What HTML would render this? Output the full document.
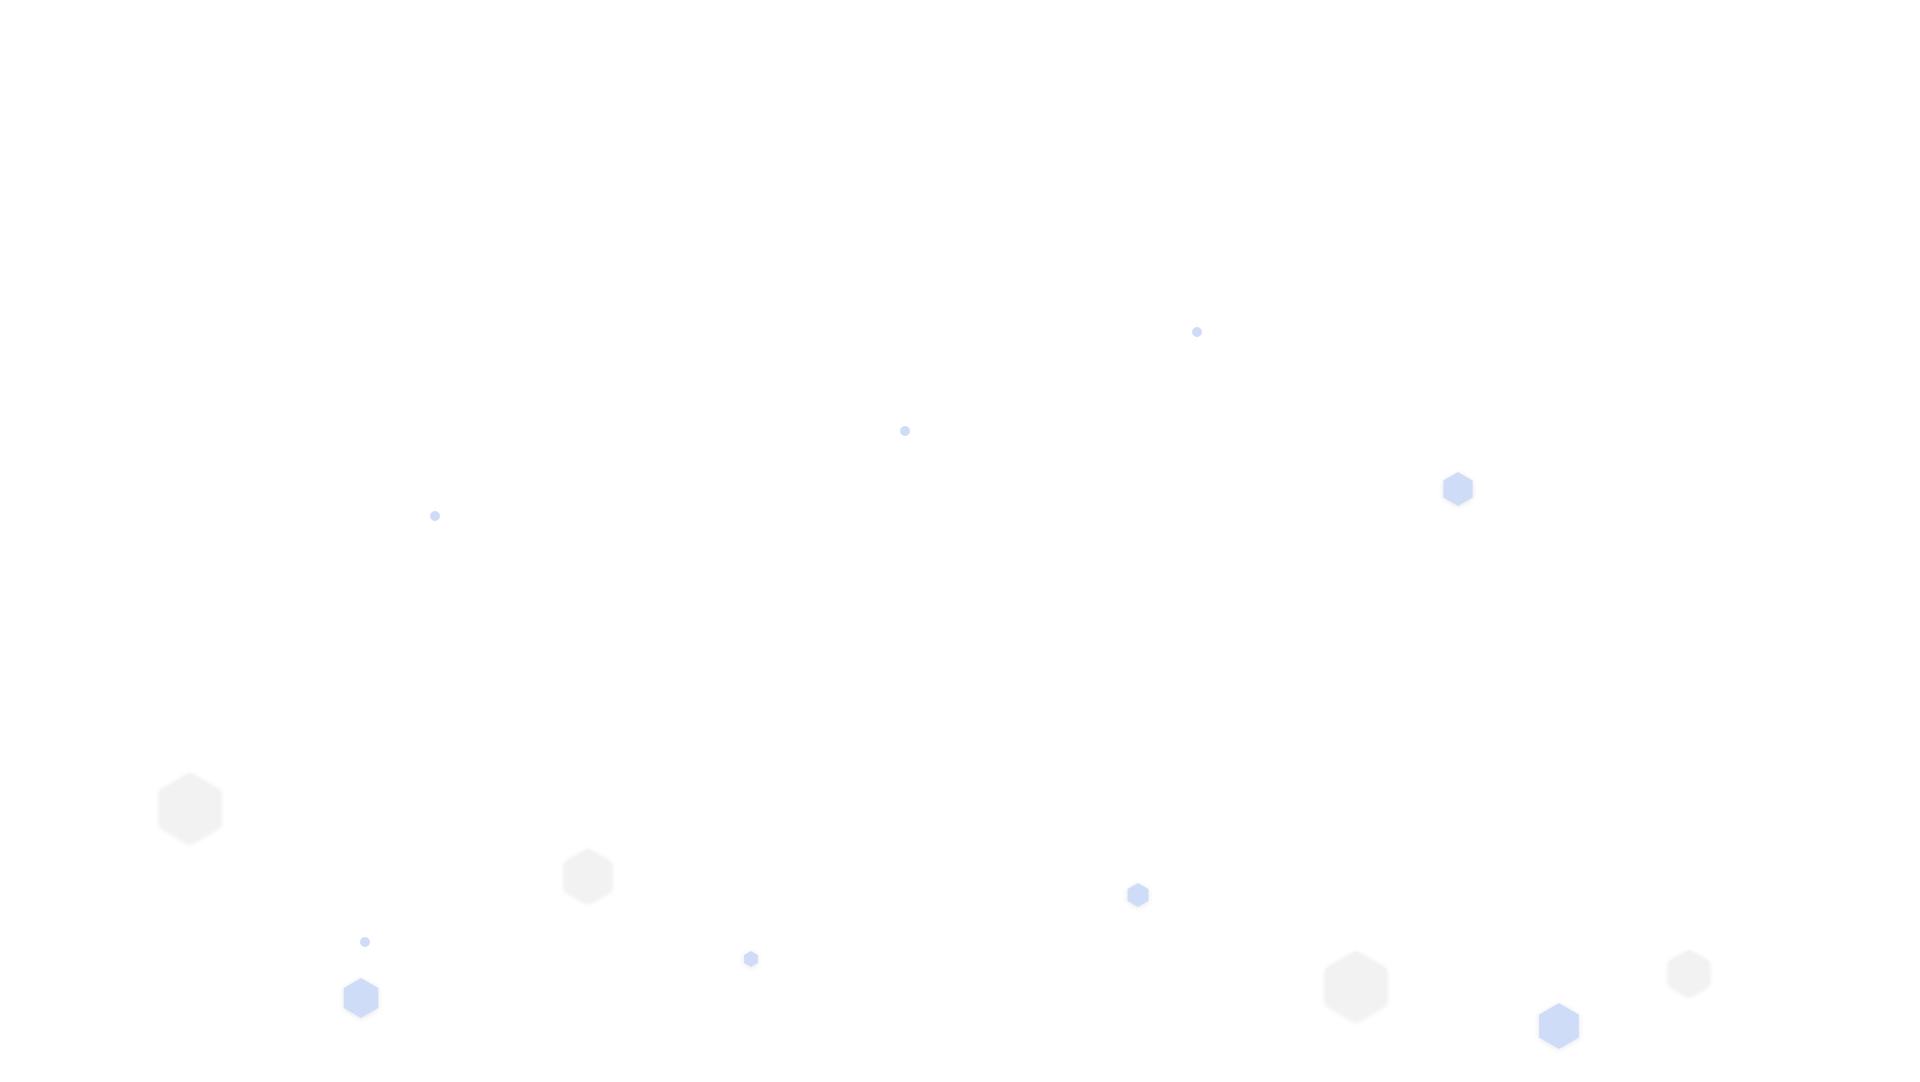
<!DOCTYPE html>
<html><head><meta charset="utf-8"><style>
html,body{margin:0;padding:0;background:#fff;width:1920px;height:1082px;overflow:hidden}
svg{display:block}
</style></head><body>
<svg width="1920" height="1082" viewBox="0 0 1920 1082" xmlns="http://www.w3.org/2000/svg">
<defs>
<filter id="sh" x="-50%" y="-50%" width="200%" height="200%"><feGaussianBlur in="SourceAlpha" stdDeviation="3"/><feOffset dy="1"/><feComponentTransfer><feFuncA type="linear" slope="0.1"/></feComponentTransfer><feMerge><feMergeNode/><feMergeNode in="SourceGraphic"/></feMerge></filter>
</defs>
<g fill="#cfdcf7">
<circle cx="1197" cy="332" r="5"/>
<circle cx="905" cy="431" r="5"/>
<circle cx="435" cy="516" r="5"/>
<circle cx="365" cy="942" r="5"/>
</g>
<g id="hexes"></g>
</svg>
<script>
var hx=[[1458,489,17,'b'],[190,808,35,'g'],[588,876,27,'g'],[1138,895,12,'b'],[751,959,8,'b'],[361,998,20,'b'],[1356,986,35,'g'],[1559,1026,23,'b'],[1689,973,23,'g']];
var g=document.getElementById('hexes'),ns='http://www.w3.org/2000/svg';
hx.forEach(function(h){var p=[];for(var i=0;i<6;i++){var a=Math.PI/180*(60*i-90);p.push((h[0]+h[2]*Math.cos(a)).toFixed(1)+','+(h[1]+h[2]*Math.sin(a)).toFixed(1));}
var e=document.createElementNS(ns,'polygon');e.setAttribute('points',p.join(' '));
e.setAttribute('fill',h[3]=='b'?'#cfdcf7':'#f2f2f2');e.setAttribute('filter','url(#sh)');g.appendChild(e);});
</script>
</body></html>
